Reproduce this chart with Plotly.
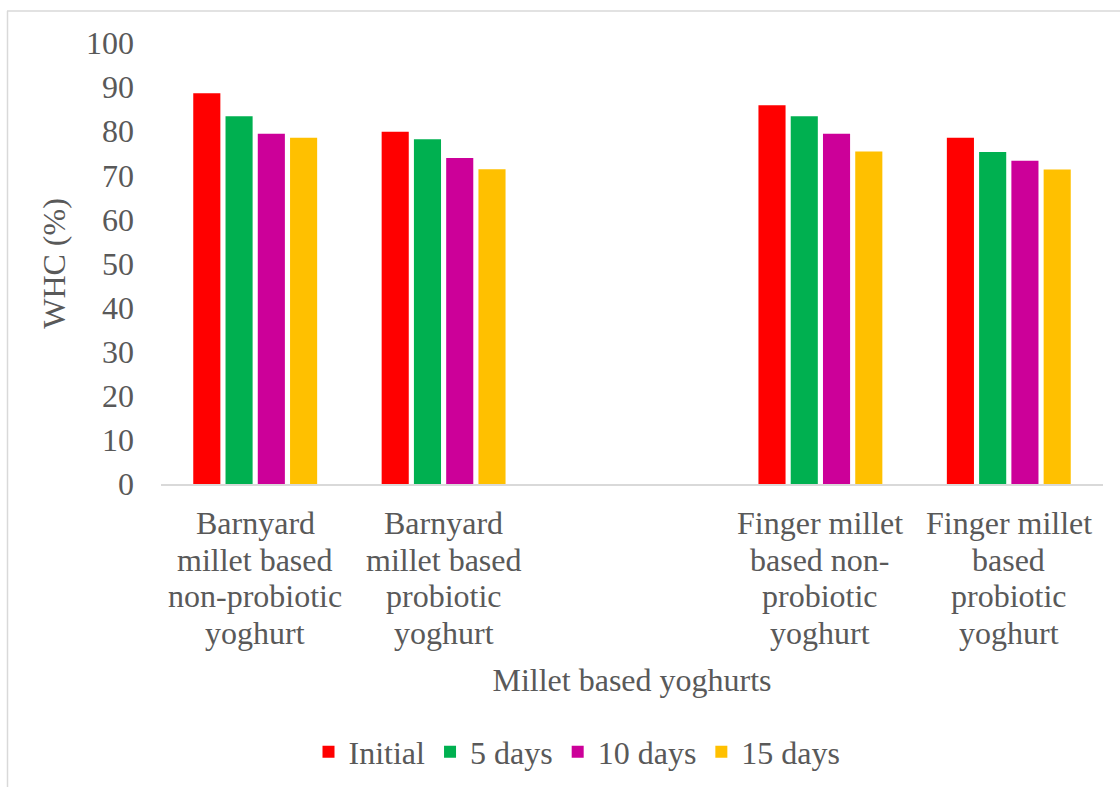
import plotly.graph_objects as go

# Water holding capacity of millet based yoghurts during storage
category_lines = [
    ["Barnyard", "millet based", "non-probiotic", "yoghurt"],
    ["Barnyard", "millet based", "probiotic", "yoghurt"],
    [],
    ["Finger millet", "based non-", "probiotic", "yoghurt"],
    ["Finger millet", "based", "probiotic", "yoghurt"],
]
categories = [" ".join(lines) if lines else " " for lines in category_lines]
initial = [88.6, 79.9, None, 85.9, 78.5]
days_5 = [83.4, 78.2, None, 83.4, 75.3]
days_10 = [79.4, 73.9, None, 79.4, 73.3]
days_15 = [78.5, 71.4, None, 75.4, 71.3]

series = [
    ("Initial", initial, "#FF0000"),
    ("5 days", days_5, "#00B050"),
    ("10 days", days_10, "#CC0099"),
    ("15 days", days_15, "#FFC000"),
]

W, H = 1120, 787
ML, MR, MT, MB = 161, 17, 43, 303
FONT = "Liberation Serif, Times New Roman, serif"
TXT = "#595959"
FS = 32

fig = go.Figure()
for name, vals, color in series:
    fig.add_trace(go.Bar(x=categories, y=vals, name=name, marker_color=color,
                         marker_line_width=0))

pw = W - ML - MR
ph = H - MT - MB


def px_x(p):
    return (p - ML) / pw


def px_y(p):
    return (H - MB - p) / ph


# multi-line category labels with tight line spacing
for cat, lines in zip(categories, category_lines):
    for i, line in enumerate(lines):
        fig.add_annotation(x=cat, xref="x", y=px_y(523 + i * 36.7), yref="paper",
                           text=line, showarrow=False, xanchor="center", yanchor="middle",
                           font=dict(family=FONT, size=FS, color=TXT))

# light frame along the top and left edges
fig.add_shape(type="line", xref="paper", yref="paper",
              x0=px_x(7), x1=px_x(W), y0=px_y(11), y1=px_y(11),
              line=dict(color="#D9D9D9", width=1.5))
fig.add_shape(type="line", xref="paper", yref="paper",
              x0=px_x(7.5), x1=px_x(7.5), y0=px_y(11), y1=px_y(H),
              line=dict(color="#D9D9D9", width=1.5))

fig.update_layout(
    width=W, height=H,
    margin=dict(l=ML, r=MR, t=MT, b=MB, autoexpand=False),
    paper_bgcolor="white", plot_bgcolor="white",
    barmode="group", bargap=0.315, bargroupgap=0.16,
    font=dict(family=FONT, color=TXT, size=FS),
    showlegend=True,
    legend=dict(orientation="h", x=px_x(577), xanchor="center", y=px_y(752), yanchor="middle",
                font=dict(size=FS, color=TXT), itemwidth=30, traceorder="normal"),
    xaxis=dict(
        type="category", categoryorder="array", categoryarray=categories,
        showgrid=False, showline=True, linecolor="#D9D9D9", linewidth=1.5,
        ticks="", showticklabels=False, automargin=False,
        title=dict(text="Millet based yoghurts", font=dict(size=FS, color=TXT), standoff=184),
    ),
    yaxis=dict(
        range=[0, 100], dtick=10, showgrid=False, zeroline=False, showline=False,
        ticks="", ticklabelstandoff=26, automargin=False,
        tickfont=dict(size=FS, color=TXT),
        title=dict(text="WHC (%)", font=dict(size=FS, color=TXT), standoff=10),
    ),
)

fig.write_html("out.html")
